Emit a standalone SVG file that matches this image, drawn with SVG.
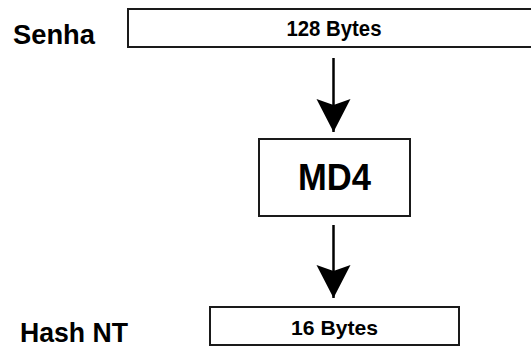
<svg xmlns="http://www.w3.org/2000/svg" width="531" height="347" viewBox="0 0 531 347">
<style>
.box{fill:#fff;stroke:#1a1a1a;stroke-width:2}
.lbl{font-family:"Liberation Sans",Arial,sans-serif;font-weight:bold;fill:#000}
.edge{stroke:#000;stroke-width:2.5;fill:none}
</style>
<defs>
<marker id="ah" markerUnits="userSpaceOnUse" viewBox="-18 -36 36 38" markerWidth="36" markerHeight="38" refX="0" refY="0">
<path d="M-17,-33 L0,-27 L17,-33 L0,0 Z" fill="#000"/>
</marker>
</defs>
<rect width="531" height="347" fill="#fff"/>
<g id="senha-label"><text class="lbl" x="13" y="44" font-size="28" textLength="82" lengthAdjust="spacingAndGlyphs">Senha</text></g>
<g id="node-128"><rect class="box" x="128" y="9" width="420" height="38"/><text class="lbl" x="334" y="36" font-size="22" text-anchor="middle" textLength="95" lengthAdjust="spacingAndGlyphs">128 Bytes</text></g>
<g id="node-md4"><rect class="box" x="259" y="139" width="151" height="77"/><text class="lbl" x="334.5" y="190" font-size="36" text-anchor="middle" textLength="73" lengthAdjust="spacingAndGlyphs">MD4</text></g>
<g id="hash-label"><text class="lbl" x="20" y="342" font-size="28" textLength="108" lengthAdjust="spacingAndGlyphs">Hash NT</text></g>
<g id="node-16"><rect class="box" x="210" y="307" width="249" height="38"/><text class="lbl" x="334.5" y="335" font-size="21" text-anchor="middle" textLength="87" lengthAdjust="spacingAndGlyphs">16 Bytes</text></g>
<g id="connectors">
<line class="edge" x1="333.5" y1="58" x2="333.5" y2="132" marker-end="url(#ah)"/>
<line class="edge" x1="333.5" y1="225" x2="333.5" y2="298" marker-end="url(#ah)"/>
</g>
</svg>
